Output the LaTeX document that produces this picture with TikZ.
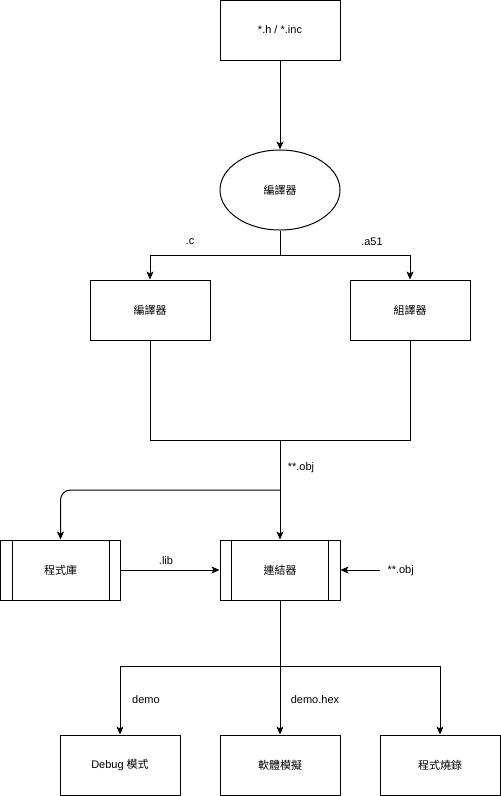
\documentclass[tikz,border=0pt]{standalone}
\usepackage{fontspec}
\setmainfont{Liberation Sans}
\newfontfamily\cjk{Noto Sans CJK TC}
\usetikzlibrary{arrows.meta,shapes.geometric}

\begin{document}
\begin{tikzpicture}[x=1pt,y=-1pt,line width=1pt,
  font=\fontsize{11}{13}\selectfont,
  box/.style={draw,minimum width=120pt,minimum height=60pt,inner sep=0pt},
  lbl/.style={inner sep=0pt},
  arr/.style={-{Stealth[length=8pt,width=7pt,inset=2pt]}}]
  \useasboundingbox (0,0) rectangle (501,796);

  % nodes
  \node[box] (src) at (280,30) {*.h / *.inc};
  \node[draw,ellipse,minimum width=120pt,minimum height=80pt,inner sep=0pt] (ell) at (280,190) {\cjk 編譯器};
  \node[box] (cc)  at (150,310) {\cjk 編譯器};
  \node[box] (asm) at (410,310) {\cjk 組譯器};
  \node[box] (lib) at (60.5,570) {\cjk 程式庫};
  \node[box] (lnk) at (280,570) {\cjk 連結器};
  \node[box] (dbg) at (120,765) {Debug {\cjk 模式}};
  \node[box] (sim) at (280,765) {\cjk 軟體模擬};
  \node[box] (burn) at (440,765) {\cjk 程式燒錄};

  % side bars of the predefined-process boxes
  \foreach \n in {lib,lnk}{
    \draw ([xshift=12pt]\n.north west) -- ([xshift=12pt]\n.south west);
    \draw ([xshift=-12pt]\n.north east) -- ([xshift=-12pt]\n.south east);
  }

  % labels
  \node[lbl] (lc)   at (190,242) {.c};
  \node[lbl] (la51) at (372,242) {.a51};
  \node[lbl] (lobj) at (301,468) {**.obj};
  \node[lbl] (llib) at (166,561) {.lib};
  \node[lbl,anchor=west] (lobj2) at (387,571) {**.obj};
  \node[lbl] (ldemo) at (146,700) {demo};
  \node[lbl] (lhex)  at (315,700) {demo.hex};

  % junction points
  \coordinate (j1) at (280,255);
  \coordinate (j2) at (280,440);
  \coordinate (j3) at (280,490);
  \coordinate (j4) at (280,666);
  \coordinate (objin) at (380,570);

  % connectors
  \draw[arr] (src) -- (ell);
  \draw (ell) -- (j1);
  \draw[arr] (j1) -| (cc);
  \draw[arr] (j1) -| (asm);
  \draw (cc.south) -- (cc.south |- j2) -- (asm.south |- j2) -- (asm.south);
  \draw[arr] (j2) -- (lnk);
  \draw[arr,rounded corners=10pt] (j3) -| (lib);
  \draw[arr] (lib) -- (lnk);
  \draw[arr] (objin) -- (lnk);
  \draw (lnk) -- (j4);
  \draw[arr] (j4) -| (dbg);
  \draw[arr] (j4) -- (sim);
  \draw[arr] (j4) -| (burn);
\end{tikzpicture}
\end{document}
